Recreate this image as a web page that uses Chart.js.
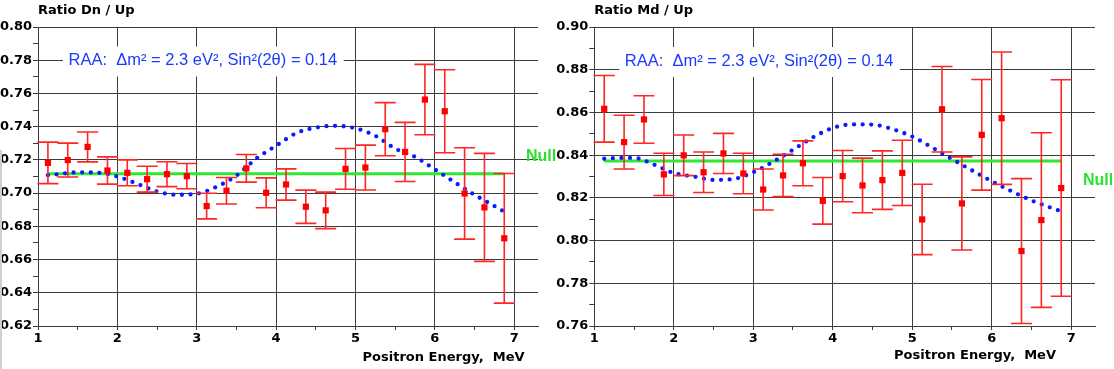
<!DOCTYPE html>
<html><head><meta charset="utf-8">
<script src="https://cdn.jsdelivr.net/npm/chart.js@4/dist/chart.umd.min.js"></script>
<style>
html,body{margin:0;padding:0;background:#fff;}
#wrap{position:relative;width:1114px;height:369px;overflow:hidden;background:#fff;}
#c1{position:absolute;left:0;top:0;}
#c2{position:absolute;left:555px;top:0;}
#edge{position:absolute;left:0;top:150px;width:2px;height:219px;background:#cfcfcf;}
</style></head><body>
<div id="wrap"><canvas id="c2" width="559" height="369"></canvas><canvas id="c1" width="562" height="369"></canvas><div id="edge"></div></div>
<script>
// ---------- data ----------
const energy = [1.125,1.375,1.625,1.875,2.125,2.375,2.625,2.875,3.125,3.375,3.625,3.875,4.125,4.375,4.625,4.875,5.125,5.375,5.625,5.875,6.125,6.375,6.625,6.875];
const dnUp    = [0.7182,0.7199,0.7278,0.7136,0.7122,0.7084,0.7114,0.7102,0.6922,0.7014,0.7149,0.7002,0.7052,0.6918,0.6896,0.7146,0.7154,0.7385,0.7248,0.7563,0.7493,0.6998,0.6914,0.6728];
const dnUpErr = [0.0125,0.0102,0.0090,0.0082,0.0078,0.0078,0.0075,0.0076,0.0077,0.0080,0.0083,0.0090,0.0094,0.0100,0.0110,0.0123,0.0135,0.0160,0.0178,0.0212,0.0250,0.0275,0.0325,0.0390];
const mdUp    = [0.8617,0.8461,0.8567,0.8310,0.8399,0.8320,0.8408,0.8314,0.8239,0.8305,0.8362,0.8186,0.8302,0.8258,0.8283,0.8317,0.8099,0.8615,0.8174,0.8495,0.8573,0.7951,0.8096,0.8246];
const mdUpErr = [0.0156,0.0126,0.0111,0.0099,0.0095,0.0095,0.0094,0.0095,0.0096,0.0099,0.0105,0.0109,0.0120,0.0128,0.0137,0.0153,0.0165,0.0200,0.0218,0.0259,0.0310,0.0339,0.0409,0.0507];
const raaEnergy = [1.125,1.25,1.5,1.75,2.0,2.25,2.5,2.75,3.0,3.25,3.5,3.75,4.0,4.25,4.5,4.75,5.0,5.25,5.5,5.75,6.0,6.25,6.5,6.75,6.85];
const raaDnUp   = [0.7108,0.7114,0.7125,0.7123,0.7100,0.7056,0.7010,0.6990,0.6996,0.7038,0.7105,0.7208,0.7285,0.7360,0.7394,0.7405,0.7390,0.7345,0.7268,0.7218,0.7143,0.7065,0.6990,0.6922,0.6895];
const raaMdUp   = [0.8383,0.8386,0.8387,0.8356,0.8316,0.8300,0.8284,0.8288,0.8320,0.8369,0.8425,0.8483,0.8527,0.8544,0.8543,0.8522,0.8487,0.8436,0.8382,0.8329,0.8278,0.8231,0.8188,0.8153,0.8140];
const nullEnergy = [1.125, 6.875];
const nullDnUp = [0.7117, 0.7117];
const nullMdUp = [0.8372, 0.8372];
const yTitleDn = 'Ratio Dn / Up';
const yTitleMd = 'Ratio Md / Up';
const xTitle = 'Positron Energy,  MeV';
const noteText = 'RAA:  \u0394m\u00b2 = 2.3 eV\u00b2, Sin\u00b2(2\u03b8) = 0.14';
const nullText = 'Null';

// ---------- drawing ----------
const FONT = '"Liberation Sans", Arial, Helvetica, sans-serif';
const AXFONT = '"DejaVu Sans", Verdana, sans-serif';
const GRID = '#3c3c3c';

const decor = {
  id: 'decor',
  beforeDatasetsDraw(chart, args, o) {
    const ctx = chart.ctx, a = chart.chartArea;
    ctx.save();
    ctx.font = '16.5px ' + FONT;
    const w = ctx.measureText(o.note).width;
    ctx.fillStyle = '#ffffff';
    ctx.fillRect(a.left + 25, o.noteY - 14, w + 12, 30);
    ctx.fillStyle = '#1c3aff';
    ctx.textBaseline = 'middle';
    ctx.textAlign = 'left';
    ctx.fillText(o.note, a.left + 30.5, o.noteY);
    ctx.restore();
  },
  beforeDatasetDraw(chart, args) {
    if (args.index !== 2) return;
    const ds = chart.data.datasets[2];
    const xs = chart.scales.x, ys = chart.scales.y, ctx = chart.ctx;
    ctx.save();
    ctx.strokeStyle = '#ff2626';
    ctx.lineWidth = 1.6;
    ds.data.forEach((p, i) => {
      const e = ds.errors[i];
      const x = xs.getPixelForValue(p.x);
      const yt = ys.getPixelForValue(p.y + e), yb = ys.getPixelForValue(p.y - e);
      ctx.beginPath();
      ctx.moveTo(x, yt); ctx.lineTo(x, yb);
      ctx.moveTo(x - 10.5, yt); ctx.lineTo(x + 10.5, yt);
      ctx.moveTo(x - 10.5, yb); ctx.lineTo(x + 10.5, yb);
      ctx.stroke();
    });
    ctx.restore();
  },
  afterDraw(chart, args, o) {
    const ctx = chart.ctx, a = chart.chartArea;
    const xs = chart.scales.x, ys = chart.scales.y;
    ctx.save();
    ctx.textBaseline = 'middle';
    ctx.fillStyle = '#000';
    ctx.font = 'bold 13px ' + AXFONT;
    ctx.textAlign = 'left';
    ctx.fillText(o.yTitle, a.left, o.yTitleY);
    ctx.textAlign = 'center';
    ctx.fillText(o.xTitle, xs.getPixelForValue(o.xTitleX), o.xTitleY);
    ctx.font = 'bold 16px ' + FONT;
    ctx.fillStyle = '#2ee02e';
    ctx.textAlign = 'left';
    ctx.fillText(o.nullText, a.right - 12, ys.getPixelForValue(o.nullY));
    ctx.restore();
  }
};

function isMajorY(v) { return Math.round(v * 100) % 2 === 0; }
function isInt(v) { return Math.abs(v - Math.round(v)) < 1e-6; }

function makeChart(id, vals, errs, raa, nul, yMin, yMax, yWidth, padRight, deco) {
  const pts = energy.map((x, i) => ({x: x, y: vals[i]}));
  const curve = raaEnergy.map((x, i) => ({x: x, y: raa[i]}));
  const nline = nullEnergy.map((x, i) => ({x: x, y: nul[i]}));
  return new Chart(document.getElementById(id), {
    type: 'scatter',
    data: {
      datasets: [
        {type: 'line', data: nline, borderColor: '#30e830', borderWidth: 3, pointRadius: 0, order: 3, clip: false},
        {type: 'line', data: curve, borderColor: '#0a1cff', borderWidth: 4.3, borderDash: [0, 8.6],
         borderCapStyle: 'round', cubicInterpolationMode: 'monotone', pointRadius: 0, order: 2, clip: false},
        {data: pts, errors: errs, pointStyle: 'rect', pointRadius: 4.4, pointBackgroundColor: '#ff0000',
         pointBorderWidth: 0, borderColor: '#ff0000', showLine: false, order: 1, clip: false}
      ]
    },
    options: {
      responsive: false, animation: false, events: [],
      layout: {padding: {left: 0, top: 27, right: padRight, bottom: 0}},
      plugins: {legend: {display: false}, tooltip: {enabled: false}, decor: deco},
      scales: {
        x: {
          type: 'linear', min: 1, max: 7.3,
          afterFit(s) { s.height = 43; },
          ticks: {stepSize: 0.5, includeBounds: false, autoSkip: false, padding: 1, color: '#000',
                  font: {family: AXFONT, size: 13, weight: 'bold'},
                  callback: v => isInt(v) ? String(Math.round(v)) : ''},
          grid: {color: c => (c.tick && isInt(c.tick.value)) ? GRID : 'rgba(0,0,0,0)',
                 tickColor: GRID, tickLength: 4, lineWidth: 1},
          border: {color: GRID, width: 1}
        },
        y: {
          type: 'linear', min: yMin, max: yMax,
          afterFit(s) { s.width = yWidth; },
          ticks: {stepSize: 0.01, autoSkip: false, padding: 1, color: '#000',
                  font: {family: AXFONT, size: 13, weight: 'bold'},
                  callback: v => isMajorY(v) ? v.toFixed(2) : ''},
          grid: {color: c => (c.tick && isMajorY(c.tick.value)) ? GRID : 'rgba(0,0,0,0)',
                 tickColor: GRID, tickLength: 5, lineWidth: 1},
          border: {color: GRID, width: 1}
        }
      }
    },
    plugins: [decor]
  });
}

makeChart('c1', dnUp, dnUpErr, raaDnUp, nullDnUp, 0.62, 0.80, 38, 24,
  {note: noteText, noteY: 60.5, yTitle: yTitleDn, yTitleY: 10.5, xTitle: xTitle, xTitleX: 6.11, xTitleY: 358,
   nullText: nullText, nullY: 0.7218});
makeChart('c2', mdUp, mdUpErr, raaMdUp, nullMdUp, 0.76, 0.90, 39.3, 19,
  {note: noteText, noteY: 61, yTitle: yTitleMd, yTitleY: 11, xTitle: xTitle, xTitleX: 5.79, xTitleY: 356,
   nullText: nullText, nullY: 0.8283});
</script>
</body></html>
